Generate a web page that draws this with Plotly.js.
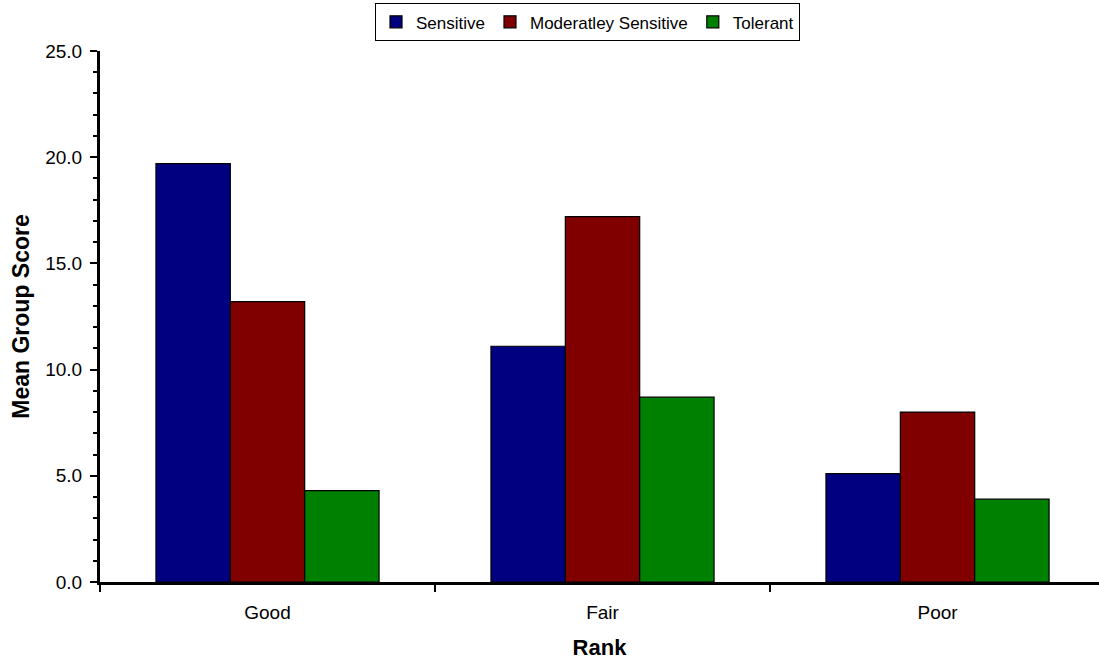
<!DOCTYPE html>
<html>
<head>
<meta charset="utf-8">
<script src="https://cdn.plot.ly/plotly-3.0.1.min.js"></script>
<style>
  html, body { margin: 0; padding: 0; background: #fff; }
  #chart { width: 1099px; height: 664px; }
</style>
</head>
<body>
<div id="chart"></div>
<script>
// Mean group score by site rank for each sensitivity group
const ranks = ["Good", "Fair", "Poor"];
const sensitive = [19.7, 11.1, 5.1];
const moderatelySensitive = [13.2, 17.2, 8.0];
const tolerant = [4.3, 8.7, 3.9];
const yTickVals = [0, 5, 10, 15, 20, 25];

const font = "Arial, 'Liberation Sans', sans-serif";

function barTrace(name, values, color) {
  return {
    type: "bar",
    name: name,
    x: ranks,
    y: values,
    marker: { color: color, line: { color: "#000", width: 1.2 } },
    hoverinfo: "x+y+name"
  };
}

const data = [
  barTrace("Sensitive", sensitive, "#000080"),
  barTrace("Moderatley Sensitive", moderatelySensitive, "#800000"),
  barTrace("Tolerant", tolerant, "#008000")
];

const layout = {
  width: 1099,
  height: 664,
  margin: { l: 100, r: 0, t: 51, b: 82 },
  paper_bgcolor: "#fff",
  plot_bgcolor: "#fff",
  font: { family: font, size: 19, color: "#000" },
  barmode: "group",
  bargap: 0.334,
  bargroupgap: 0,
  showlegend: true,
  legend: {
    orientation: "h",
    x: 0.488,
    xref: "paper",
    xanchor: "center",
    y: 0.995,
    yref: "container",
    yanchor: "top",
    bordercolor: "#000",
    borderwidth: 1,
    bgcolor: "#fff",
    font: { family: font, size: 17 },
    itemwidth: 30,
    tracegroupgap: 0
  },
  xaxis: {
    type: "category",
    range: [-0.5, 2.482],
    tickson: "boundaries",
    ticks: "outside",
    ticklen: 7,
    tickwidth: 2,
    tickcolor: "#000",
    showline: true,
    linecolor: "#000",
    linewidth: 3,
    showgrid: false,
    zeroline: false,
    ticklabelstandoff: 11,
    tickfont: { family: font, size: 19 },
    title: { text: "<b>Rank</b>", font: { family: font, size: 22 }, standoff: 18 }
  },
  yaxis: {
    range: [0, 25],
    tickvals: yTickVals,
    tickformat: ".1f",
    ticks: "outside",
    ticklen: 7,
    tickwidth: 2,
    tickcolor: "#000",
    minor: { dtick: 1, ticks: "outside", ticklen: 4, tickwidth: 2, tickcolor: "#000", showgrid: false },
    showline: true,
    linecolor: "#000",
    linewidth: 3,
    showgrid: false,
    zeroline: false,
    ticklabelstandoff: 4,
    tickfont: { family: font, size: 19 },
    title: { text: "<b>Mean Group Score</b>", font: { family: font, size: 23 }, standoff: 10 }
  }
};

Plotly.newPlot("chart", data, layout, { displayModeBar: false, staticPlot: true });
</script>
</body>
</html>
